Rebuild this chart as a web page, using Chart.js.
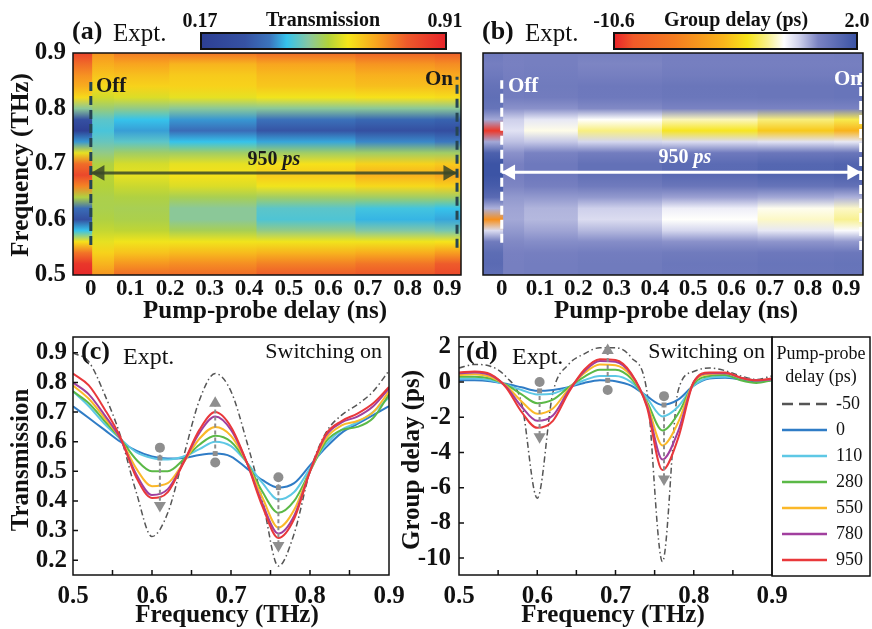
<!DOCTYPE html>
<html>
<head>
<meta charset="utf-8">
<script src="https://cdn.jsdelivr.net/npm/chart.js@4.4.1/dist/chart.umd.min.js"></script>
<style>
  html, body { margin: 0; padding: 0; background: #fff; }
  body { width: 872px; height: 629px; position: relative; overflow: hidden; }
  canvas { position: absolute; }
</style>
</head>
<body>
<canvas id="chartA" width="470" height="330" style="left:0;top:0"></canvas>
<canvas id="chartB" width="436" height="330" style="left:436px;top:0"></canvas>
<canvas id="chartC" width="440" height="299" style="left:0;top:330px"></canvas>
<canvas id="chartD" width="477" height="299" style="left:395px;top:330px"></canvas>
<script>
const SERIF = '"Liberation Serif", "Times New Roman", serif'

// frequency grid (THz) shared by all curves
const freq = [0.50, 0.52, 0.54, 0.56, 0.58, 0.60, 0.62, 0.64, 0.66, 0.68, 0.70,
              0.72, 0.74, 0.76, 0.78, 0.80, 0.82, 0.84, 0.86, 0.88, 0.90]

// pump-probe delays (ps)
const delaysPs = [-50, 0, 110, 280, 550, 780, 950]
const delayNames = ['-50', '0', '110', '280', '550', '780', '950']
const curveColors = ['#555555', '#2f7cc6', '#5ec8e5', '#5bb947', '#fbb829', '#a13f9e', '#e9383b']

// transmission, panel (c)
const transM50 = [0.90, 0.87, 0.76, 0.62, 0.43, 0.28, 0.36, 0.55, 0.74, 0.83, 0.77, 0.60, 0.40, 0.18, 0.29, 0.50, 0.63, 0.69, 0.725, 0.77, 0.84]
const trans0   = [0.72, 0.68, 0.64, 0.60, 0.57, 0.55, 0.543, 0.545, 0.555, 0.56, 0.55, 0.51, 0.47, 0.445, 0.46, 0.52, 0.58, 0.63, 0.66, 0.69, 0.72]
const trans110 = [0.77, 0.72, 0.66, 0.61, 0.565, 0.545, 0.54, 0.55, 0.575, 0.60, 0.585, 0.53, 0.46, 0.405, 0.43, 0.51, 0.59, 0.64, 0.665, 0.70, 0.75]
const trans280 = [0.77, 0.73, 0.67, 0.61, 0.54, 0.50, 0.50, 0.54, 0.59, 0.62, 0.60, 0.53, 0.43, 0.36, 0.40, 0.50, 0.60, 0.64, 0.65, 0.68, 0.76]
const trans550 = [0.79, 0.745, 0.68, 0.61, 0.51, 0.45, 0.46, 0.53, 0.61, 0.65, 0.62, 0.53, 0.41, 0.31, 0.37, 0.50, 0.61, 0.655, 0.67, 0.70, 0.77]
const trans780 = [0.80, 0.76, 0.69, 0.61, 0.49, 0.42, 0.44, 0.53, 0.63, 0.685, 0.64, 0.53, 0.39, 0.29, 0.35, 0.50, 0.62, 0.665, 0.685, 0.72, 0.78]
const trans950 = [0.83, 0.79, 0.71, 0.615, 0.48, 0.41, 0.43, 0.53, 0.64, 0.70, 0.65, 0.53, 0.38, 0.275, 0.34, 0.50, 0.625, 0.67, 0.695, 0.73, 0.785]

// group delay (ps), panel (d)
const gdM50 = [0.8, 1.0, 0.9, 0.3, -1.2, -6.6, -0.6, 1.0, 1.6, 1.95, 1.95, 1.4, -0.5, -10.2, -0.5, 0.6, 0.8, 0.65, 0.35, 0.15, 0.35]
const gd0   = [0.1, 0.1, 0.05, -0.1, -0.3, -0.5, -0.45, -0.3, -0.05, 0.1, 0.05, -0.2, -0.8, -1.3, -1.0, -0.2, 0.2, 0.25, 0.15, 0.05, 0.1]
const gd110 = [0.2, 0.2, 0.1, -0.15, -0.45, -0.7, -0.65, -0.3, 0.1, 0.35, 0.35, 0.0, -0.9, -1.95, -1.4, -0.2, 0.25, 0.3, 0.2, 0.1, 0.1]
const gd280 = [0.3, 0.3, 0.2, -0.15, -0.7, -1.2, -1.0, -0.3, 0.3, 0.7, 0.7, 0.2, -1.1, -2.75, -1.8, -0.1, 0.35, 0.4, 0.1, -0.05, 0.1]
const gd550 = [0.4, 0.45, 0.3, -0.2, -1.1, -1.8, -1.5, -0.4, 0.5, 1.0, 0.95, 0.35, -1.2, -3.6, -2.3, 0.0, 0.45, 0.5, 0.25, 0.1, 0.15]
const gd780 = [0.5, 0.55, 0.4, -0.25, -1.4, -2.2, -1.9, -0.5, 0.6, 1.2, 1.15, 0.45, -1.3, -4.4, -2.8, 0.0, 0.5, 0.5, 0.25, 0.1, 0.15]
const gd950 = [0.55, 0.6, 0.45, -0.3, -1.7, -2.6, -2.2, -0.6, 0.7, 1.3, 1.25, 0.5, -1.4, -5.0, -3.2, 0.0, 0.55, 0.55, 0.25, 0.1, 0.2]

const transCurves = [transM50, trans0, trans110, trans280, trans550, trans780, trans950]
const delayCurves = [gdM50, gd0, gd110, gd280, gd550, gd780, gd950]

// tick values
const delayTicks = [0, 0.1, 0.2, 0.3, 0.4, 0.5, 0.6, 0.7, 0.8, 0.9]
const freqTicks = [0.5, 0.6, 0.7, 0.8, 0.9]
const freqMinor = [0.55, 0.6, 0.65, 0.7, 0.75, 0.8, 0.85]
const transTicks = [0.2, 0.3, 0.4, 0.5, 0.6, 0.7, 0.8, 0.9]
const gdTicks = [2, 0, -2, -4, -6, -8, -10]

// colour bar limits
const transRange = [0.17, 0.91]
const gdRange = [-10.6, 2.0]

// gray switching markers (circle = off, square = 0 ps, triangle = 950 ps)
const markFreqC = [0.61, 0.68, 0.76]
const markCircleC = [0.58, 0.53, 0.48]
const markSquareC = [0.545, 0.56, 0.445]
const markTriC = [0.385, 0.73, 0.25]
const markFreqD = [0.603, 0.69, 0.762]
const markCircleD = [0.0, -0.45, -0.8]
const markSquareD = [-0.5, 0.1, -1.3]
const markTriD = [-3.1, 1.8, -5.5]

// switch-off / switch-on guide lines on the maps (ns, THz)
const switchOnA = 0.925
const switchOnB = 0.938
const arrowFreqA = 0.684
const arrowFreqB = 0.685

const cmapTrans = [[0, '#2d3f93'], [0.18, '#3652a3'], [0.28, '#3b74bd'], [0.35, '#35c3ec'], [0.44, '#88c7a0'],
                   [0.52, '#b3d23a'], [0.60, '#f6e51a'], [0.72, '#f8a31f'], [0.84, '#ee5a2b'], [1, '#e6242a']]
const cmapDelay = [[0, '#e8232a'], [0.08, '#f15a29'], [0.25, '#f47d20'], [0.45, '#f9b51b'], [0.55, '#f7e41a'],
                   [0.63, '#f8f08a'], [0.70, '#ffffff'], [0.76, '#d0d2ec'], [0.84, '#7a82c2'], [1, '#3a53a4']]

function hexRgb(h) {
  return [parseInt(h.slice(1, 3), 16), parseInt(h.slice(3, 5), 16), parseInt(h.slice(5, 7), 16)]
}

function mapColor(stops, range, v) {
  let t = (v - range[0]) / (range[1] - range[0])
  t = Math.max(0, Math.min(1, t))
  for (let i = 1; i < stops.length; i++) {
    if (t <= stops[i][0]) {
      const a = hexRgb(stops[i - 1][1]), b = hexRgb(stops[i][1])
      const f = (t - stops[i - 1][0]) / (stops[i][0] - stops[i - 1][0])
      const c = a.map((x, k) => Math.round(x + (b[k] - x) * f))
      return `rgb(${c[0]},${c[1]},${c[2]})`
    }
  }
  return stops[stops.length - 1][1]
}

function drawText(ctx, t) {
  ctx.save()
  ctx.translate(t.x, t.y)
  if (t.rot) ctx.rotate(t.rot)
  ctx.fillStyle = t.color || '#111'
  ctx.textBaseline = 'middle'
  ctx.textAlign = 'left'
  const parts = t.parts || [{ s: t.s, w: t.w }]
  let total = 0
  parts.forEach(p => {
    p.font = `${p.w || ''} ${t.size}px ${SERIF}`
    ctx.font = p.font
    p.width = ctx.measureText(p.s).width
    total += p.width
  })
  let x = t.align === 'center' ? -total / 2 : t.align === 'right' ? -total : 0
  parts.forEach(p => {
    ctx.font = p.font
    ctx.fillText(p.s, x, 0)
    x += p.width
  })
  ctx.restore()
}

function decor(cfg) {
  return {
    id: 'decor',
    afterDraw(chart) {
      const ctx = chart.ctx, a = chart.chartArea
      const sx = chart.scales.x, sy = chart.scales.y
      ctx.save()
      ctx.strokeStyle = '#111'
      ctx.lineWidth = 1.5
      ctx.beginPath()
      ;(cfg.minorX || []).forEach(v => {
        const px = sx.getPixelForValue(v)
        ctx.moveTo(px, a.bottom)
        ctx.lineTo(px, a.bottom - 5)
      })
      ;(cfg.minorY || []).forEach(v => {
        const py = sy.getPixelForValue(v)
        ctx.moveTo(a.left, py)
        ctx.lineTo(a.left + 5, py)
      })
      ctx.stroke()
      ctx.strokeRect(a.left, a.top, a.right - a.left, a.bottom - a.top)

      if (cfg.colorbar) {
        const c = cfg.colorbar
        const g = ctx.createLinearGradient(c.x, 0, c.x + c.w, 0)
        c.stops.forEach(s => g.addColorStop(s[0], s[1]))
        ctx.fillStyle = g
        ctx.fillRect(c.x, c.y, c.w, c.h)
        ctx.lineWidth = 2
        ctx.strokeRect(c.x, c.y, c.w, c.h)
      }
      if (cfg.legend) cfg.legend(ctx, chart)
      ;(cfg.texts || []).forEach(t => drawText(ctx, t))
      ctx.restore()
    }
  }
}

const fmt1 = v => (v === 0 ? '0' : v.toFixed(1))
const fmtInt = v => String(v)

function axis(min, max, ticks, size, fontSize, pad, fmt, show = true) {
  return {
    type: 'linear', min, max, display: show,
    afterBuildTicks: s => { s.ticks = ticks.map(v => ({ value: v })) },
    afterFit: s => {
      if (s.isHorizontal()) s.height = size; else s.width = size
      s.paddingTop = 0; s.paddingBottom = 0; s.paddingLeft = 0; s.paddingRight = 0
    },
    grid: { display: false, drawTicks: false },
    border: { display: false },
    ticks: {
      autoSkip: false, maxRotation: 0, padding: pad, color: '#111',
      font: { family: SERIF, size: fontSize, weight: 'bold' },
      callback: fmt
    }
  }
}

function options(xAxis, yAxis, padding) {
  return {
    responsive: false, animation: false, devicePixelRatio: 1, events: [],
    layout: { padding },
    plugins: { legend: { display: false }, tooltip: { enabled: false } },
    scales: { x: xAxis, y: yAxis }
  }
}

// one filled column per measured delay, shaded along frequency from the curve values
function heatColumns(curves, stops, range, xMin, xMax) {
  const t = delaysPs.map(d => d / 1000)
  const last = t.length - 1
  return curves.map((vals, i) => {
    const left = i === 0 ? xMin : (i === 1 ? 0 : (t[i - 1] + t[i]) / 2)
    let right = i === 0 ? 0 : (i === last ? xMax : (t[i] + t[i + 1]) / 2)
    if (i < last) right += 0.004
    return {
      data: [{ x: left, y: freq[freq.length - 1] }, { x: right, y: freq[freq.length - 1] }],
      borderWidth: 0, borderColor: 'rgba(0,0,0,0)', pointRadius: 0,
      fill: { value: freq[0] },
      backgroundColor: ctx => {
        const chart = ctx.chart
        if (!chart.chartArea) return 'rgba(0,0,0,0)'
        const ys = chart.scales.y
        const y0 = ys.getPixelForValue(freq[0]), y1 = ys.getPixelForValue(freq[freq.length - 1])
        const g = chart.ctx.createLinearGradient(0, y0, 0, y1)
        vals.forEach((v, k) => g.addColorStop((ys.getPixelForValue(freq[k]) - y0) / (y1 - y0), mapColor(stops, range, v)))
        return g
      }
    }
  })
}

function guides(onAt, arrowFreq, offSpan, onSpan, dashColor, arrowColor, inset) {
  return [
    { data: [{ x: inset, y: arrowFreq }, { x: onAt - inset, y: arrowFreq }], showLine: false,
      pointStyle: 'triangle', pointRadius: 9, pointRotation: [-90, 90],
      pointBackgroundColor: arrowColor, pointBorderWidth: 0 },
    { data: [{ x: 0, y: arrowFreq }, { x: onAt, y: arrowFreq }], borderColor: arrowColor, borderWidth: 3, pointRadius: 0 },
    { data: [{ x: 0, y: offSpan[0] }, { x: 0, y: offSpan[1] }], borderColor: dashColor, borderWidth: 3, borderDash: [9, 5], pointRadius: 0 },
    { data: [{ x: onAt, y: onSpan[0] }, { x: onAt, y: onSpan[1] }], borderColor: dashColor, borderWidth: 3, borderDash: [9, 5], pointRadius: 0 }
  ]
}

function markerSets(fr, circ, sq, tri) {
  const gray = '#8e8e8e'
  const sets = [
    { data: fr.map((f, k) => ({ x: f, y: circ[k] })), showLine: false, pointStyle: 'circle', pointRadius: 5,
      pointBackgroundColor: gray, pointBorderWidth: 0 },
    { data: fr.map((f, k) => ({ x: f, y: sq[k] })), showLine: false, pointStyle: 'rect', pointRadius: 3.5,
      pointBackgroundColor: gray, pointBorderWidth: 0 },
    { data: fr.map((f, k) => ({ x: f, y: tri[k] })), showLine: false, pointStyle: 'triangle', pointRadius: 7,
      pointRotation: tri.map((v, k) => (v > circ[k] ? 0 : 180)), pointBackgroundColor: gray, pointBorderWidth: 0 }
  ]
  fr.forEach((f, k) => sets.push({
    data: [{ x: f, y: circ[k] }, { x: f, y: tri[k] }], borderColor: gray, borderWidth: 2, borderDash: [4, 3], pointRadius: 0
  }))
  return sets
}

function curveSets(curves) {
  const sets = curves.map((vals, i) => ({
    data: freq.map((f, k) => ({ x: f, y: vals[k] })),
    borderColor: curveColors[i],
    borderWidth: i === 0 ? 1.5 : 2,
    borderDash: i === 0 ? [6, 3, 1.5, 3] : [],
    pointRadius: 0, fill: false, cubicInterpolationMode: 'monotone'
  }))
  return sets.reverse()
}

const T = (s, x, y, size, w, extra) => Object.assign({ s, x, y, size, w }, extra || {})

// (a) transmission map
new Chart(document.getElementById('chartA'), {
  type: 'line',
  data: {
    datasets: [
      ...guides(switchOnA, arrowFreqA, [0.554, 0.848], [0.549, 0.857], '#264653', 'rgba(58,72,40,0.85)', 0.023),
      ...heatColumns(transCurves, cmapTrans, transRange, -0.045, 0.935)
    ]
  },
  options: options(
    axis(-0.045, 0.935, delayTicks, 55, 23, 0, fmt1),
    axis(0.5, 0.9, freqTicks, 73, 25, 7, fmt1),
    { left: 0, right: 9, top: 53, bottom: 0 }
  ),
  plugins: [decor({
    colorbar: { x: 201, y: 33, w: 245, h: 16, stops: cmapTrans },
    texts: [
      T('(a)', 72, 32, 26, 'bold'),
      T('Expt.', 113, 34, 25, ''),
      T('0.17', 200, 22, 20, 'bold', { align: 'center' }),
      T('Transmission', 323, 21, 20, 'bold', { align: 'center' }),
      T('0.91', 445, 22, 20, 'bold', { align: 'center' }),
      T('Frequency (THz)', 22, 165, 25, 'bold', { align: 'center', rot: -Math.PI / 2 }),
      T('Pump-probe delay (ns)', 265, 312, 25, 'bold', { align: 'center' }),
      T('Off', 96, 87, 21, 'bold', { color: '#1a1a1a' }),
      T('On', 453, 80, 21, 'bold', { color: '#1a1a1a', align: 'right' }),
      { x: 274, y: 160, size: 20, align: 'center', color: '#1a1a1a', parts: [{ s: '950 ', w: 'bold' }, { s: 'ps', w: 'italic bold' }] }
    ]
  })]
})

// (b) group delay map
new Chart(document.getElementById('chartB'), {
  type: 'line',
  data: {
    datasets: [
      ...guides(switchOnB, arrowFreqB, [0.558, 0.851], [0.545, 0.864], '#ffffff', '#ffffff', 0.023),
      ...heatColumns(delayCurves, cmapDelay, gdRange, -0.049, 0.944)
    ]
  },
  options: options(
    axis(-0.049, 0.944, delayTicks, 55, 23, 0, fmt1),
    axis(0.5, 0.9, freqTicks, 0, 25, 7, fmt1, false),
    { left: 47, right: 2, top: 53, bottom: 0 }
  ),
  plugins: [decor({
    colorbar: { x: 178, y: 33, w: 243, h: 16, stops: cmapDelay },
    texts: [
      T('(b)', 46, 32, 26, 'bold'),
      T('Expt.', 89, 34, 25, ''),
      T('-10.6', 178, 22, 20, 'bold', { align: 'center' }),
      T('Group delay (ps)', 300, 21, 20, 'bold', { align: 'center' }),
      T('2.0', 421, 22, 20, 'bold', { align: 'center' }),
      T('Pump-probe delay (ns)', 240, 312, 25, 'bold', { align: 'center' }),
      T('Off', 72, 87, 21, 'bold', { color: '#ffffff' }),
      T('On', 426, 80, 21, 'bold', { color: '#ffffff', align: 'right' }),
      { x: 249, y: 158, size: 20, align: 'center', color: '#ffffff', parts: [{ s: '950 ', w: 'bold' }, { s: 'ps', w: 'italic bold' }] }
    ]
  })]
})

// (c) transmission spectra
new Chart(document.getElementById('chartC'), {
  type: 'line',
  data: { datasets: [...markerSets(markFreqC, markCircleC, markSquareC, markTriC), ...curveSets(transCurves)] },
  options: options(
    axis(0.5, 0.9, freqTicks, 54, 25, 7, fmt1),
    axis(0.15, 0.9536, transTicks, 73, 25, 6, fmt1),
    { left: 0, right: 51, top: 5, bottom: 0 }
  ),
  plugins: [decor({
    minorX: freqMinor, minorY: transTicks,
    texts: [
      T('(c)', 81, 22, 26, 'bold'),
      T('Expt.', 123, 28, 24, ''),
      T('Switching on', 382, 22, 22, '', { align: 'right' }),
      T('Transmission', 22, 130, 25, 'bold', { align: 'center', rot: -Math.PI / 2 }),
      T('Frequency (THz)', 227, 286, 25, 'bold', { align: 'center' })
    ]
  })]
})

// (d) group delay spectra with legend box
function delayLegend(ctx, chart) {
  const a = chart.chartArea
  const left = a.right, right = left + 98, top = a.top, bottom = a.bottom + 1
  ctx.strokeStyle = '#111'
  ctx.lineWidth = 1.5
  ctx.strokeRect(left, top, right - left, bottom - top)
  const cx = (left + right) / 2
  drawText(ctx, T('Pump-probe', cx, top + 17, 18, '', { align: 'center' }))
  drawText(ctx, T('delay (ps)', cx, top + 40, 18, '', { align: 'center' }))
  delayNames.forEach((name, i) => {
    const y = top + 67 + i * 26
    ctx.save()
    ctx.strokeStyle = curveColors[i]
    ctx.lineWidth = 2.5
    ctx.setLineDash(i === 0 ? [11, 6] : [])
    ctx.beginPath()
    ctx.moveTo(left + 10, y)
    ctx.lineTo(left + 55, y)
    ctx.stroke()
    ctx.restore()
    drawText(ctx, T(name, left + 64, y, 18, ''))
  })
}

new Chart(document.getElementById('chartD'), {
  type: 'line',
  data: { datasets: [...markerSets(markFreqD, markCircleD, markSquareD, markTriD), ...curveSets(delayCurves)] },
  options: options(
    axis(0.5, 0.9, freqTicks, 54, 25, 7, fmt1),
    axis(-10.96, 2.56, gdTicks, 64, 25, 8, fmtInt),
    { left: 0, right: 100, top: 5, bottom: 0 }
  ),
  plugins: [decor({
    minorX: freqMinor, minorY: gdTicks,
    legend: delayLegend,
    texts: [
      T('(d)', 71, 22, 26, 'bold'),
      T('Expt.', 117, 28, 24, ''),
      T('Switching on', 370, 22, 22, '', { align: 'right' }),
      T('Group delay (ps)', 18, 130, 25, 'bold', { align: 'center', rot: -Math.PI / 2 }),
      T('Frequency (THz)', 218, 286, 25, 'bold', { align: 'center' })
    ]
  })]
})
</script>
</body>
</html>
